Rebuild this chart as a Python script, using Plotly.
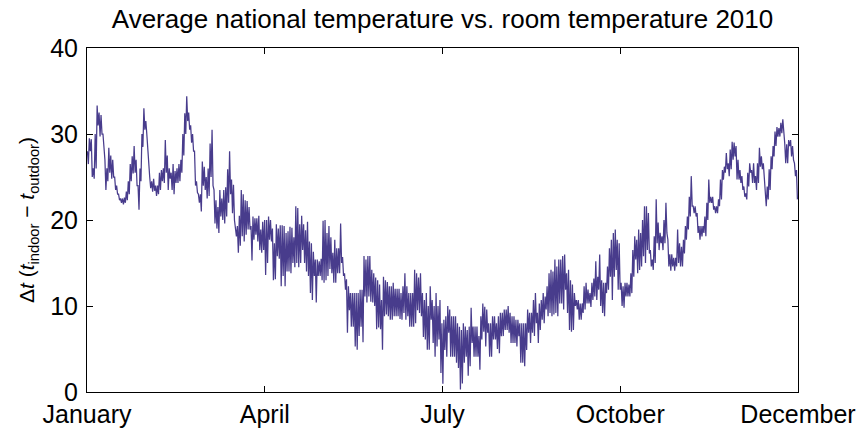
import plotly.graph_objects as go

# Daily maximum and minimum of the indoor-outdoor temperature difference (°C), 2010
jan_hi = [28, 29.5, 29.4, 26, 30, 33.3, 32.5, 32.2, 30, 27, 26, 28.4, 27.5, 27, 25, 24,
          23, 22.5, 22.5, 22.6, 23.3, 24.5, 26.5, 27.4, 28.6, 27, 24, 26, 30, 33, 31.5]
jan_lo = [26.5, 28, 25, 24.8, 26, 31, 29.7, 30, 28.5, 23.5, 24.5, 25.5, 24.8, 25, 23.5, 23,
          22.3, 22, 21.8, 22, 22.3, 23, 24.5, 25.4, 25.5, 24, 21.2, 24.5, 28.5, 30.5, 30]

feb_hi = [28, 25, 24.5, 24.8, 24, 24, 25.5, 25.8, 26, 29.3, 27.5, 26, 25.5, 26.5,
          25.7, 26, 26.5, 27, 30, 32.4, 34.4, 32.5, 31, 30, 28, 24.5, 23, 23]
feb_lo = [26, 23.7, 23.3, 23.4, 22.8, 23, 23.5, 24.5, 24.3, 25.5, 23.5, 24.8, 23.5, 23,
          24.3, 24.3, 24.5, 25.5, 27.5, 30, 31.5, 30.5, 29, 28, 24, 23.2, 22, 21]

mar_hi = [26.8, 26.2, 25, 26, 28.9, 30.5, 23.5, 22.3, 21.5, 23.5, 22.5, 23.5, 23.8, 25.9,
          28, 24.7, 24.1, 19.3, 19.3, 20.5, 23.5, 23, 22.3, 22.2, 21.5, 19.3, 20.4, 20.2,
          20.2, 20.5, 18.9]
mar_lo = [24, 23.5, 22.5, 22.8, 25, 24, 19.6, 19, 18.5, 20.4, 20, 19.6, 20.4, 22,
          23, 20.8, 20, 18.1, 16.2, 17, 18.1, 17.5, 18.3, 18.9, 18.9, 15.3, 17.7, 18.3,
          17.5, 16.5, 16.2]

apr_hi = [19.8, 20, 20, 20.4, 20, 19, 17.3, 19.5, 19, 19.4, 19.4, 19.3, 18.5, 18.7, 19.2,
          19.1, 18, 21.6, 21.4, 19.5, 20.5, 19.5, 18.8, 19.8, 17.5, 17.3, 16.3, 15.4, 15.4, 15.2]
apr_lo = [16.5, 13.6, 15, 17.7, 17.5, 13, 13.1, 15.8, 15.5, 12.3, 13.5, 12.3, 14, 14, 13.8,
          15, 14.5, 15, 14.5, 15, 16.5, 15, 14, 13.5, 11.5, 10.7, 13.5, 10.4, 13.5, 13.5]

may_hi = [15.5, 19.9, 20, 18.5, 19.3, 18, 16.2, 17.7, 16.7, 16.7, 19.6, 15.7, 13.8, 13.1,
          12.3, 11.5, 11.5, 11.5, 11.5, 11.5, 11.9, 11.9, 15.8, 15.4, 15.8, 15.8, 14.2, 13.8,
          13.3, 13, 12.5]
may_lo = [13, 12.7, 13, 13.5, 14.3, 13.8, 12.7, 12.7, 13.8, 13.8, 15, 13.5, 11.9, 6.9,
          9.5, 7.6, 7.6, 5.3, 4.9, 6.5, 7.6, 5.8, 11.1, 10.4, 11.1, 10.5, 10.4, 10,
          7.3, 7.5, 7.3]

jun_hi = [10.7, 13.4, 13, 12.8, 12.3, 12.3, 12.7, 12, 12, 12, 11.5, 12.3, 13.8, 12.3, 11.5,
          11.5, 11.5, 14.2, 13.8, 13.3, 13.8, 11.5, 10.7, 11.5, 10, 12.3, 10.7, 10, 11.5, 10]
jun_lo = [4.9, 8.8, 9, 8.8, 8.4, 8.4, 8.8, 8.8, 8.8, 8.5, 8.4, 9.2, 8.4, 8.8, 7.6,
          7.6, 7.6, 8, 9.5, 9.2, 8.8, 6.4, 6.1, 4.9, 4.9, 8.4, 5.7, 4.1, 5.3, 6.1]

jul_hi = [10.7, 8, 8.4, 8.8, 10, 9.6, 8.8, 8.8, 8.8, 8, 7.6, 7.2, 8, 7.6, 7.2, 7.6,
          9.8, 7.6, 7.6, 7.6, 6.5, 8.8, 10.3, 9.9, 9.6, 8, 8, 8.8, 8.8, 8, 8.8]
jul_lo = [2.2, 0.95, 4.9, 4.1, 6.9, 4.1, 4.1, 4.1, 3.4, 2.8, 0.3, 1, 3.4, 4.1, 1.9, 3,
          5.7, 4.1, 4.1, 4.1, 2.6, 6.1, 7, 5.3, 6.9, 4.1, 4.1, 6.1, 6.1, 5, 4.5]

aug_hi = [9.2, 9.2, 9.6, 9.6, 10, 9.2, 8.8, 8.8, 8.4, 8.4, 8, 8, 8, 8, 9.6, 9.2,
          9.2, 10.7, 11.5, 9.2, 10.3, 10.7, 11.5, 11.1, 12.3, 13.8, 14.2, 14, 15.4, 14.6, 15.4]
aug_lo = [6.5, 6.5, 7.2, 7.2, 6.9, 5.7, 5.7, 5.7, 5.3, 6.5, 3.4, 3.4, 3, 4.9, 6.9, 5.7,
          6.9, 6.5, 8, 5.7, 7.2, 8.4, 8, 9.6, 8.8, 9.2, 8.8, 9, 9.2, 8.8, 10.3]

sep_hi = [15.4, 15.8, 16, 13.8, 14.2, 13, 12.5, 11.5, 10.7, 10.7, 10.3, 10.3, 12.3, 12.7, 11.9,
          11.5, 12.7, 13.2, 15.2, 13.4, 16, 13, 12.7, 12.7, 14.6, 16.7, 17.7, 18.5, 18.9, 17.7]
sep_lo = [10.3, 9.6, 11.9, 9.2, 7.2, 7, 7.2, 10, 9.6, 8.4, 8.4, 9.2, 9.6, 10.3, 10.3,
          9.9, 10.7, 11.1, 10.7, 11.9, 10, 9.2, 8.8, 11.5, 11.9, 13.4, 10.7, 13.4, 14.2, 11.9]

oct_hi = [17.3, 12.7, 12.3, 12.7, 12.7, 12.5, 13.8, 16.5, 18.1, 17.7, 18.9, 18.5, 20, 21.6,
          21.6, 20.8, 16.5, 15.4, 18.1, 22.4, 19.7, 18.5, 18.1, 20, 22, 17.7, 16, 16, 15.6,
          15.6, 18.9]
oct_lo = [11.9, 10, 9.8, 11.1, 11.1, 11.1, 11.5, 13.4, 15.4, 13.8, 14.2, 14.6, 15.8, 15,
          16.5, 16.1, 14.6, 14.2, 15, 17.3, 16.5, 17.3, 16.5, 17.3, 18.5, 14.6, 14.1, 14.6, 14.1,
          14.6, 15]

nov_hi = [17.3, 16.9, 17.7, 19.3, 20.4, 22.7, 25.1, 21.6, 21.6, 20.8, 19.3, 19.3, 19.3, 20.4,
          22, 24.7, 22.7, 22.7, 21.6, 21.6, 22.4, 24.7, 25.8, 26.2, 27.8, 26.6, 28.2, 29.1,
          29, 28.6]
nov_lo = [14.6, 14.6, 16.1, 17.7, 18.9, 20.4, 21.6, 20.8, 20.4, 18.5, 17.7, 18.1, 18.5, 18.1,
          20, 22, 22, 21.2, 20.8, 20.8, 21.6, 22.4, 24.7, 25.5, 25.9, 25.1, 25.9, 27,
          27.4, 24.7]

dec_hi = [27, 25.8, 25.1, 23.9, 23.1, 25.5, 26.6, 25.8, 26.6, 25.1, 26.6, 28.4, 27.4, 26.6,
          23.9, 23.9, 25.9, 27.4, 28.6, 30.3, 30.8, 30.7, 31.3, 31.7, 28.9, 28.8, 29.3, 29.3,
          28.6, 26.6, 25.8]
dec_lo = [24.7, 24.3, 23.5, 22.7, 22.4, 23.9, 25.5, 24.3, 24.3, 23.5, 24.3, 26.2, 25.9, 25.1,
          21.6, 22.4, 23.5, 25.9, 27.4, 28.6, 29.7, 29.7, 30.1, 30.5, 26.6, 26.6, 28.6, 27.4,
          27, 25.1, 22.4]

month_ticks = ["January", "April", "July", "October", "December"]

daily_hi = (jan_hi + feb_hi + mar_hi + apr_hi + may_hi + jun_hi +
            jul_hi + aug_hi + sep_hi + oct_hi + nov_hi + dec_hi)
daily_lo = (jan_lo + feb_lo + mar_lo + apr_lo + may_lo + jun_lo +
            jul_lo + aug_lo + sep_lo + oct_lo + nov_lo + dec_lo)
n_days = len(daily_hi)

# One night-time high and one afternoon low per day
day_pos, delta_t = [], []
for d, (h, l) in enumerate(zip(daily_hi, daily_lo)):
    day_pos += [d + 0.2, d + 0.7]
    delta_t += [h, l]

font_family = "Liberation Sans, Arial, sans-serif"

fig = go.Figure(go.Scatter(
    x=day_pos, y=delta_t, mode="lines",
    line=dict(color="#483C8C", width=1.25),
    hoverinfo="skip",
))

axis_common = dict(
    showline=True, linecolor="black", linewidth=1, mirror="ticks",
    ticks="inside", ticklen=6, tickcolor="black", tickwidth=1,
    showgrid=False, zeroline=False, automargin=False,
    tickfont=dict(family=font_family, size=25, color="black"),
)

fig.update_layout(
    width=861, height=432,
    margin=dict(l=87, r=63, t=48, b=40),
    paper_bgcolor="white", plot_bgcolor="white",
    showlegend=False,
    title=dict(
        text="Average national temperature vs. room temperature 2010",
        font=dict(family=font_family, size=26, color="black"),
        x=0.5, xanchor="center", xref="paper",
        y=1 - 19 / 432, yanchor="middle", yref="container",
    ),
    xaxis=dict(
        axis_common,
        range=[0, n_days],
        tickvals=[i * n_days / (len(month_ticks) - 1) for i in range(len(month_ticks))],
        ticktext=month_ticks,
        ticklabelstandoff=0,
    ),
    yaxis=dict(
        axis_common,
        range=[0, 40],
        tickvals=[0, 10, 20, 30, 40],
        ticklabelstandoff=3,
        title=dict(
            text="Δ<i>t</i> (<i>t</i><sub>indoor</sub> − <i>t</i><sub>outdoor</sub>)",
            font=dict(family=font_family, size=21, color="black"),
            standoff=9,
        ),
    ),
)

fig.write_html("out.html")
